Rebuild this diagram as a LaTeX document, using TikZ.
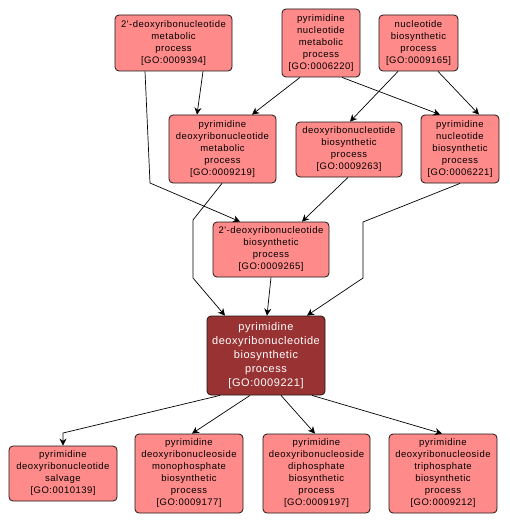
\documentclass[tikz,border=0pt]{standalone}
\usepackage{fontspec}
\setmainfont{Liberation Sans}
\newfontfamily\gosmall[LetterSpace=5]{Liberation Sans}
\newfontfamily\gobig[LetterSpace=5]{Liberation Sans}
\usetikzlibrary{arrows.meta}
\definecolor{gopink}{RGB}{255,138,138}
\definecolor{godark}{RGB}{153,51,51}
\definecolor{goedge}{RGB}{30,20,20}
\tikzset{
  gobox/.style={draw=goedge, line width=0.8pt, fill=gopink, rounded corners=4pt,
    align=center, inner sep=0pt, font=\gosmall\fontsize{9.5}{12}\selectfont, text=black},
  gomain/.style={draw=goedge, line width=0.8pt, fill=godark, rounded corners=4pt,
    align=center, inner sep=0pt, font=\gobig\fontsize{11}{14}\selectfont, text=white},
  goarrow/.style={draw=black, line width=0.7pt, -{Stealth[length=7pt,width=7pt]}}
}
\begin{document}
\begin{tikzpicture}[x=1pt,y=-1pt]
\useasboundingbox (0,0) rectangle (509,524);
\fill[white] (0,0) rectangle (509,524);
% top row
\node[gobox, minimum width=117pt, minimum height=56pt] (n9394) at (173.5,43)
  {2'-deoxyribonucleotide\\metabolic\\process\\{[GO:0009394]}};
\node[gobox, minimum width=78pt, minimum height=68pt] (n6220) at (321,43)
  {pyrimidine\\nucleotide\\metabolic\\process\\{[GO:0006220]}};
\node[gobox, minimum width=79pt, minimum height=56pt] (n9165) at (418.5,43)
  {nucleotide\\biosynthetic\\process\\{[GO:0009165]}};
% second row
\node[gobox, minimum width=107pt, minimum height=68pt] (n9219) at (222.5,149)
  {pyrimidine\\deoxyribonucleotide\\metabolic\\process\\{[GO:0009219]}};
\node[gobox, minimum width=106pt, minimum height=55pt] (n9263) at (349,149.5)
  {deoxyribonucleotide\\biosynthetic\\process\\{[GO:0009263]}};
\node[gobox, minimum width=78pt, minimum height=68pt] (n6221) at (460,149)
  {pyrimidine\\nucleotide\\biosynthetic\\process\\{[GO:0006221]}};
% third row
\node[gobox, minimum width=116pt, minimum height=55pt] (n9265) at (271,249.5)
  {2'-deoxyribonucleotide\\biosynthetic\\process\\{[GO:0009265]}};
% main
\node[gomain, minimum width=118pt, minimum height=79pt] (n9221) at (266,355.5)
  {pyrimidine\\deoxyribonucleotide\\biosynthetic\\process\\{[GO:0009221]}};
% bottom row
\node[gobox, minimum width=108pt, minimum height=55pt] (n10139) at (63,473.5)
  {pyrimidine\\deoxyribonucleotide\\salvage\\{[GO:0010139]}};
\node[gobox, minimum width=108pt, minimum height=79pt] (n9177) at (189,473.5)
  {pyrimidine\\deoxyribonucleoside\\monophosphate\\biosynthetic\\process\\{[GO:0009177]}};
\node[gobox, minimum width=107pt, minimum height=79pt] (n9197) at (316.5,473.5)
  {pyrimidine\\deoxyribonucleoside\\diphosphate\\biosynthetic\\process\\{[GO:0009197]}};
\node[gobox, minimum width=108pt, minimum height=79pt] (n9212) at (443,473.5)
  {pyrimidine\\deoxyribonucleoside\\triphosphate\\biosynthetic\\process\\{[GO:0009212]}};
% bend points
\coordinate (b1) at (150,183);
\coordinate (b2a) at (193,220);
\coordinate (b2b) at (193,278);
\coordinate (b3a) at (363,222);
\coordinate (b3b) at (363,278);
\coordinate (b4) at (63,433);
% edges
\draw[goarrow] ([xshift=29.5]n9394.south) -- ([xshift=-25.5]n9219.north);
\draw[goarrow] ([xshift=-28.5]n9394.south) -- (b1) -- ([xshift=-31]n9265.north);
\draw[goarrow] ([xshift=-21]n6220.south) -- ([xshift=29.5]n9219.north);
\draw[goarrow] ([xshift=21]n6220.south) -- ([xshift=-20]n6221.north);
\draw[goarrow] ([xshift=-20.5]n9165.south) -- ([xshift=1]n9263.north);
\draw[goarrow] ([xshift=19.5]n9165.south) -- ([xshift=19]n6221.north);
\draw[goarrow] ([xshift=-0.5]n9219.south) -- (b2a) -- (b2b) -- ([xshift=-41]n9221.north);
\draw[goarrow] ([xshift=-1]n9263.south) -- ([xshift=31]n9265.north);
\draw[goarrow] (n6221.south) -- (b3a) -- (b3b) -- ([xshift=41]n9221.north);
\draw[goarrow] (n9265.south) -- ([xshift=1]n9221.north);
\draw[goarrow] ([xshift=-46]n9221.south) -- (b4) -- (n10139.north);
\draw[goarrow] ([xshift=-16]n9221.south) -- ([xshift=3]n9177.north);
\draw[goarrow] ([xshift=15]n9221.south) -- ([xshift=-1.5]n9197.north);
\draw[goarrow] ([xshift=46]n9221.south) -- ([xshift=-1]n9212.north);
\end{tikzpicture}
\end{document}
